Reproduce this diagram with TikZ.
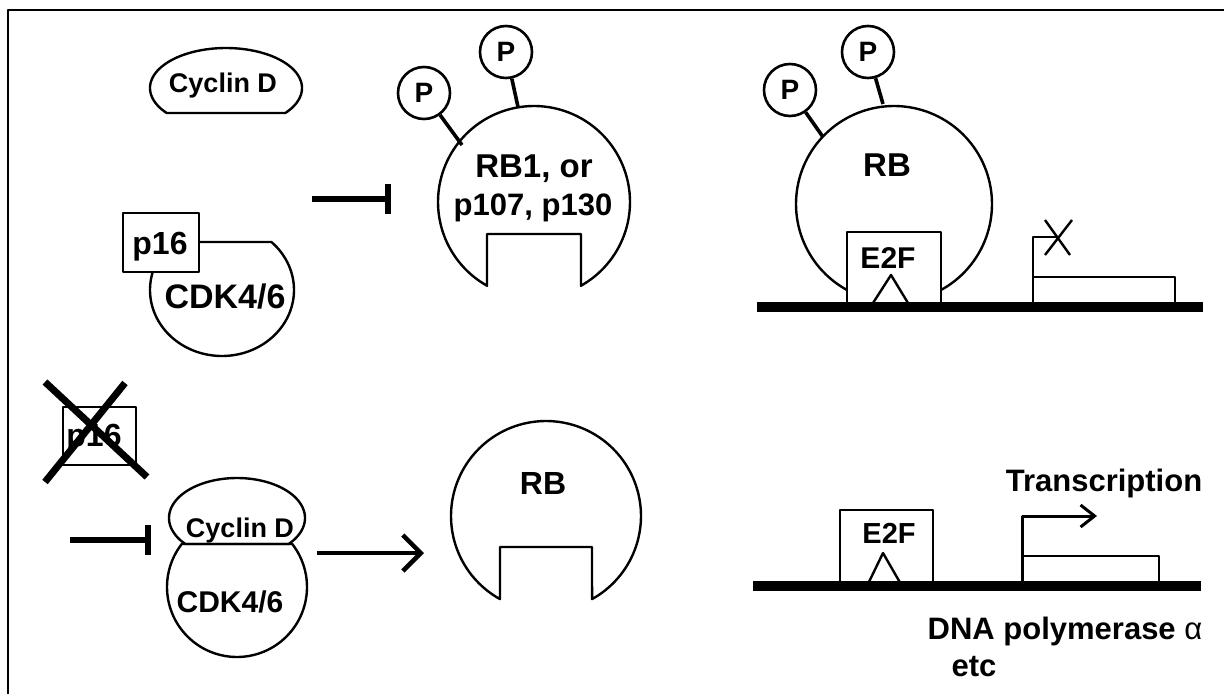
\documentclass[tikz,border=0pt]{standalone}
\usepackage{fontspec}
\setmainfont{Liberation Sans}
\usetikzlibrary{arrows.meta}
\begin{document}
\begin{tikzpicture}[x=1pt,y=-1pt,line join=round,
  outline/.style={line width=2.4pt},
  boxline/.style={line width=2.8pt},
  lbl/.style={font=\bfseries\fontsize{#1}{#1}\selectfont,inner sep=0pt,anchor=base},
  pcirc/.style={circle,draw,line width=2.6pt,minimum size=52pt,inner sep=0pt,font=\bfseries\fontsize{28}{28}\selectfont},
  stick/.style={line width=3.6pt},
  inhib/.style={line width=6pt,-{Bar[width=30pt]}},
  actarrow/.style={line width=4.5pt,-{Straight Barb[length=18pt,width=36pt]}},
  tssarrow/.style={line width=3pt,-{Straight Barb[length=14pt,width=22pt]}},
  dna/.style={line width=10pt},
  cross/.style={line width=7pt},
]
\useasboundingbox (0,0) rectangle (1224,694);
\draw[line width=2.5pt] (1224,10) -- (8,10) -- (8,694);

% ---------- top left: Cyclin D, p16 + CDK4/6 ----------
\draw[outline] plot[domain=141.3:398.7,samples=90] ({226+76*cos(\x)},{88+40*sin(\x)}) -- cycle;
\node[lbl=27] (cycA) at (223,92) {Cyclin D};
\draw[outline] (199,242) -- plot[domain=-46.66:195.83,samples=90] ({222+72*cos(\x)},{290+66*sin(\x)});
\node[draw,line width=2.4pt,minimum width=76pt,minimum height=59pt,inner sep=0pt] (p16box) at (161,242.5) {};
\node[lbl=32] (p16A) at (160,254) {p16};
\node[lbl=34] (cdkA) at (225,308) {CDK4/6};
\coordinate (inhAs) at (312,199);
\coordinate (inhAe) at (391,199);
\draw[inhib] (inhAs) -- (inhAe);

% ---------- top middle: phosphorylated RB1 ----------
\draw[outline] plot[domain=119.3:420.7,samples=120] ({534+96*cos(\x)},{202+96*sin(\x)}) -- (581,234) -- (487,234) -- cycle;
\node[pcirc] (pB1) at (424,93) {P};
\node[pcirc] (pB2) at (506,52) {P};
\coordinate (sB1) at (462,145);
\coordinate (sB2) at (518,107);
\draw[stick] (pB1) -- (sB1);
\draw[stick] (pB2) -- (sB2);
\node[lbl=33] (rb1a) at (534,177) {RB1, or};
\node[lbl=31] (rb1b) at (533,215) {p107, p130};

% ---------- top right: RB bound to E2F ----------
\draw[outline] plot[domain=118.7:421.3,samples=120] ({894+98*cos(\x)},{204+98*sin(\x)});
\node[pcirc] (pC1) at (790,90) {P};
\node[pcirc] (pC2) at (868,52) {P};
\coordinate (sC1) at (823,137);
\coordinate (sC2) at (883,104);
\draw[stick] (pC1) -- (sC1);
\draw[stick] (pC2) -- (sC2);
\node[lbl=33] (rbC) at (887,176) {RB};
\node[draw,boxline,minimum width=94pt,minimum height=72pt,inner sep=0pt] (e2fA) at (894,268) {};
\node[lbl=30] (e2fAl) at (888,268) {E2F};
\draw[outline] (873,303) -- (891,275) -- (908,303);
\coordinate (tssA) at (1033,303);
\coordinate (tssAe) at (1057,237);
\draw[boxline] (tssA) |- (tssAe);
\draw[outline] (1045,220) -- (1070,255);
\draw[outline] (1072,220) -- (1045,255);
\draw[boxline] (1033,303) -- (1033,277) -- (1175,277) -- (1175,303);
\draw[dna] (757,307) -- (1203,307);

% ---------- bottom left: lost p16, Cyclin D + CDK4/6 ----------
\node[draw,line width=2.4pt,minimum width=73pt,minimum height=58pt,inner sep=0pt] (p16box2) at (99.5,436) {};
\node[lbl=32] (p16B) at (94,446) {p16};
\draw[cross] (45,382) -- (147,477);
\draw[cross] (125,383) -- (45,482);
\draw[outline] plot[domain=139.46:400.54,samples=90] ({237+68*cos(\x)},{518+40*sin(\x)}) -- cycle;
\node[lbl=27] (cycB) at (240,537) {Cyclin D};
\draw[outline] plot[domain=-37.9:217.9,samples=90] ({237+70*cos(\x)},{587+70*sin(\x)}) -- cycle;
\node[lbl=30] (cdkB) at (230,612) {CDK4/6};
\coordinate (inhBs) at (70,540);
\coordinate (inhBe) at (151,540);
\draw[inhib] (inhBs) -- (inhBe);
\coordinate (actS) at (317,553);
\coordinate (actE) at (424,553);
\draw[actarrow] (actS) -- (actE);

% ---------- bottom middle: RB ----------
\draw[outline] plot[domain=119:421,samples=120] ({546+95*cos(\x)},{516+95*sin(\x)}) -- (592,547) -- (500,547) -- cycle;
\node[lbl=32] (rbD) at (543,494) {RB};

% ---------- bottom right: free E2F, transcription ----------
\node[draw,boxline,minimum width=93pt,minimum height=76pt,inner sep=0pt] (e2fB) at (886.5,548) {};
\node[lbl=29] (e2fBl) at (889,543) {E2F};
\draw[outline] (867,586) -- (883,553) -- (902,586);
\draw[boxline] (1022,586) -- (1022,556) -- (1159,556) -- (1159,586);
\coordinate (tssB) at (1022,586);
\coordinate (tssBe) at (1097,516);
\draw[tssarrow] (tssB) |- (tssBe);
\draw[dna] (753,586) -- (1201,586);
\node[lbl=31] (trans) at (1104,491) {Transcription};
\node[lbl=31] (pola) at (1065,639) {DNA polymerase {\mdseries α}};
\node[lbl=31] (etc) at (974,676) {etc};
\end{tikzpicture}
\end{document}
